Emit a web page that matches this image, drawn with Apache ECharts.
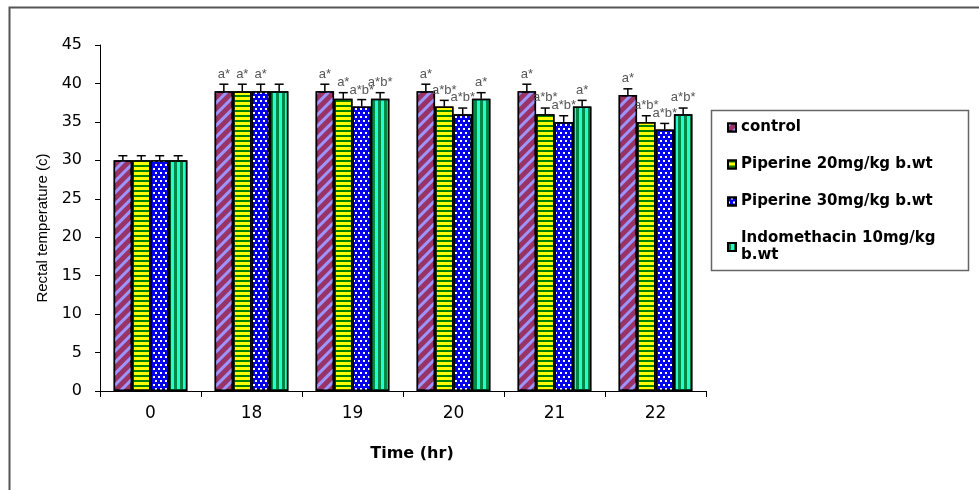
<!DOCTYPE html>
<html>
<head>
<meta charset="utf-8">
<script src="https://cdn.jsdelivr.net/npm/echarts@6/dist/echarts.min.js"></script>
<style>
  html, body { margin: 0; padding: 0; background: #fff; }
  #chart { width: 979px; height: 490px; }
</style>
</head>
<body>
<div id="chart"></div>
<script>
const categories = ['0', '18', '19', '20', '21', '22'];
const seriesNames = ['control', 'Piperine 20mg/kg b.wt', 'Piperine 30mg/kg b.wt', 'Indomethacin 10mg/kg b.wt'];
const controlValues = [30, 39, 39, 39, 39, 38.5];
const pip20Values = [30, 39, 38, 37, 36, 35];
const pip30Values = [30, 39, 37, 36, 35, 34];
const indoValues = [30, 39, 38, 38, 37, 36];
const controlErr = [0.6, 0.9, 0.9, 0.9, 0.9, 0.8];
const pip20Err = [0.6, 0.9, 0.8, 0.8, 0.8, 0.8];
const pip30Err = [0.6, 0.9, 0.9, 0.8, 0.8, 0.8];
const indoErr = [0.6, 0.9, 0.8, 0.8, 0.8, 0.8];
const controlLabels = ['', 'a*', 'a*', 'a*', 'a*', 'a*'];
const pip20Labels = ['', 'a*', 'a*', 'a*b*', 'a*b*', 'a*b*'];
const pip30Labels = ['', 'a*', 'a*b*', 'a*b*', 'a*b*', 'a*b*'];
const indoLabels = ['', '', 'a*b*', 'a*', 'a*', 'a*b*'];
const yTicks = [0, 5, 10, 15, 20, 25, 30, 35, 40, 45];

const allValues = [controlValues, pip20Values, pip30Values, indoValues];
const allErr = [controlErr, pip20Err, pip30Err, indoErr];
const allLabels = [controlLabels, pip20Labels, pip30Labels, indoLabels];

const GROUP_FRAC = 0.73;

const styles = [
  { color: '#993366', decal: { symbol: 'rect', symbolSize: 1, color: '#9d95ff', dashArrayX: [1, 0], dashArrayY: [3, 5], rotation: -Math.PI / 4 } },
  { color: '#ffff00', decal: { symbol: 'rect', symbolSize: 1, color: '#008000', dashArrayX: [1, 0], dashArrayY: [2, 3], rotation: 0 } },
  { color: '#0000ee', decal: { symbol: 'rect', symbolSize: 1, color: '#ffffff', dashArrayX: [[2, 3], [0, 3, 2, 0]], dashArrayY: [2, 2], rotation: 0 } },
  { color: '#22ffcc', decal: { symbol: 'rect', symbolSize: 1, color: '#008844', dashArrayX: [3, 3], dashArrayY: [1, 0], rotation: 0 } }
];

const barSeries = seriesNames.map((name, si) => ({
  name: name,
  type: 'bar',
  data: allValues[si],
  barGap: 0,
  barCategoryGap: ((1 - GROUP_FRAC) * 100) + '%',
  itemStyle: {
    color: styles[si].color,
    decal: styles[si].decal,
    borderColor: '#000',
    borderWidth: 1.5
  },
  label: {
    show: true,
    position: 'top',
    distance: 10,
    fontFamily: 'Liberation Sans',
    fontSize: 13,
    color: '#555',
    formatter: (p) => allLabels[si][p.dataIndex]
  },
  z: 2
}));

const errData = [];
allValues.forEach((vals, si) => {
  vals.forEach((v, ci) => errData.push([ci, v, allErr[si][ci], si]));
});

const errSeries = {
  type: 'custom',
  data: errData,
  encode: { x: 0, y: 1 },
  z: 5,
  silent: true,
  renderItem: function (params, api) {
    const ci = api.value(0), v = api.value(1), e = api.value(2), si = api.value(3);
    const base = api.coord([ci, v]);
    const top = api.coord([ci, v + e]);
    const band = api.size([1, 0])[0];
    const gw = band * GROUP_FRAC;
    const bw = gw / 4;
    const x = base[0] - gw / 2 + bw * (si + 0.5);
    const st = { stroke: '#000', lineWidth: 1.5 };
    return {
      type: 'group',
      children: [
        { type: 'line', shape: { x1: x, y1: base[1], x2: x, y2: top[1] }, style: st },
        { type: 'line', shape: { x1: x - 4.5, y1: top[1], x2: x + 4.5, y2: top[1] }, style: st }
      ]
    };
  }
};

const chart = echarts.init(document.getElementById('chart'), null, { renderer: 'canvas' });
chart.setOption({
  backgroundColor: '#ffffff',
  animation: false,
  grid: { left: 100, right: 273, top: 45, bottom: 99 },
  graphic: [
    { type: 'rect', shape: { x: 9.5, y: 7.5, width: 1200, height: 800 }, style: { fill: 'none', stroke: '#555', lineWidth: 2 }, z: 0 },
    { type: 'rect', shape: { x: 711.5, y: 110.5, width: 257, height: 160 }, style: { fill: '#fff', stroke: '#666', lineWidth: 1.5 }, z: 0 }
  ],
  legend: {
    orient: 'vertical',
    left: 722,
    top: 114,
    itemGap: 20,
    itemWidth: 8,
    itemHeight: 8,
    icon: 'rect',
    data: seriesNames,
    textStyle: {
      fontFamily: 'DejaVu Sans',
      fontWeight: 'bold',
      fontSize: 15,
      color: '#000',
      width: 205,
      overflow: 'break',
      lineHeight: 17
    }
  },
  xAxis: {
    type: 'category',
    data: categories,
    name: 'Time (hr)',
    nameLocation: 'middle',
    nameGap: 55,
    nameTextStyle: { fontFamily: 'DejaVu Sans', fontWeight: 'bold', fontSize: 16, color: '#000', padding: [0, 0, 0, 18] },
    axisLine: { lineStyle: { color: '#000', width: 1 } },
    axisTick: { show: true, length: 6, lineStyle: { color: '#000' } },
    axisLabel: { fontFamily: 'DejaVu Sans', fontSize: 17, color: '#000', margin: 14 }
  },
  yAxis: {
    type: 'value',
    min: 0,
    max: 45,
    interval: 5,
    name: 'Rectal temperature (c)',
    nameLocation: 'middle',
    nameGap: 48,
    nameTextStyle: { fontFamily: 'Liberation Sans', fontSize: 15, color: '#000', padding: [0, 20, 0, 0] },
    axisLine: { show: true, lineStyle: { color: '#000', width: 1 } },
    axisTick: { show: true, length: 5, lineStyle: { color: '#000' } },
    splitLine: { show: false },
    axisLabel: { fontFamily: 'DejaVu Sans', fontSize: 16, color: '#000', margin: 18, formatter: (v) => yTicks.includes(v) ? String(v) : '' }
  },
  series: [...barSeries, errSeries]
});
</script>
</body>
</html>
